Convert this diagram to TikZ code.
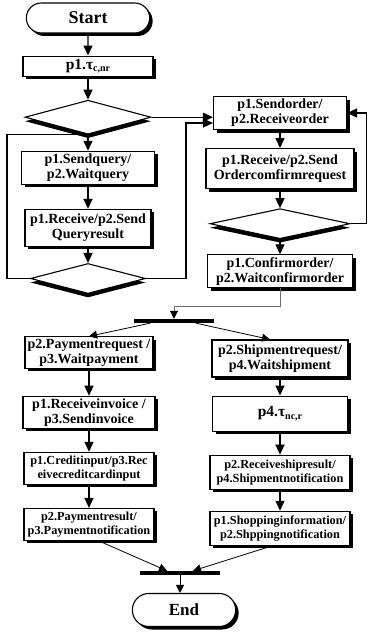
\documentclass[tikz,border=0pt]{standalone}
\usepackage{fontspec}
\setmainfont{Liberation Serif}
\usetikzlibrary{arrows.meta,positioning,calc,shapes.geometric,shapes.misc,shadows}
\definecolor{ink}{HTML}{000000}
\definecolor{wiregray}{HTML}{6A6A6A}
\newcommand{\LeftX}{88}
\newcommand{\RightX}{280}
\newcommand{\lowsub}[1]{\raisebox{-2.5pt}{\fontsize{10}{10}\selectfont #1}}

\begin{document}
\begin{tikzpicture}[x=1pt, y=-1pt, ink, font=\bfseries\fontsize{14}{15}\selectfont,
    box shadow/.style={drop shadow={shadow xshift=3pt, shadow yshift=-3pt, fill=ink, opacity=1}},
    term/.style={rounded rectangle, draw=ink, line width=1.1pt, fill=white, box shadow, font=\bfseries\fontsize{18}{18}\selectfont},
    act/.style={draw=ink, line width=1.1pt, fill=white, align=center, inner sep=2pt, box shadow},
    smallact/.style={act, font=\bfseries\fontsize{12.3}{14}\selectfont},
    tauact/.style={act, font=\bfseries\fontsize{15.5}{16}\selectfont},
    test/.style={diamond, draw=ink, line width=1.1pt, fill=white, inner sep=0pt, drop shadow={shadow xshift=0pt, shadow yshift=-4pt, fill=ink, opacity=1}},
    bar/.style={fill=ink, minimum width=80pt, minimum height=4pt, inner sep=0pt},
    go/.style={-{Triangle[length=10pt, width=9pt]}, line width=1.4pt},
    back/.style={line width=1.1pt},
    wire/.style={-{Triangle[length=8pt, width=8pt, color=ink]}, line width=0.8pt},
  ]
\useasboundingbox (0,0) rectangle (368,634);

% --- Query loop (left) -----------------------------------------------------------
\node[term, minimum width=130pt, minimum height=30pt] (start) at (\LeftX,18) {Start};
\node[tauact, minimum width=130pt, minimum height=20pt, below=22pt of start] (tauc) {p1.τ\lowsub{c,nr}};
\node[test, minimum width=126pt, minimum height=34pt, below=23pt of tauc] (ask) {};
\node[act, minimum width=133pt, minimum height=33pt, below=16pt of ask] (query) {p1.Sendquery/\\p2.Waitquery};
\node[act, minimum width=126pt, minimum height=37pt, below=24pt of query] (qresult) {p1.Receive/p2.Send\\Queryresult};
\node[test, minimum width=115pt, minimum height=30pt, below=16pt of qresult] (again) {};

% --- Order loop (right) ----------------------------------------------------------
\node[act, minimum width=133pt, minimum height=33pt] (order) at (\RightX,113) {p1.Sendorder/\\p2.Receiveorder};
\node[act, minimum width=148pt, minimum height=40pt, below=18pt of order] (ocreq) {p1.Receive/p2.Send\\Ordercomfirmrequest};
\node[test, minimum width=140pt, minimum height=30pt, below=19pt of ocreq] (check) {};
\node[act, minimum width=145pt, minimum height=33pt, below=15pt of check] (confirm) {p1.Confirmorder/\\p2.Waitconfirmorder};

% --- Payment and shipment branches -------------------------------------------------
\node[bar] (fork) at (174,321) {};
\node[act, minimum width=128pt, minimum height=31pt] (payreq) at (89,352.5) {p2.Paymentrequest /\\p3.Waitpayment};
\node[act, minimum width=132pt, minimum height=32pt, below=27pt of payreq] (invoice) {p1.Receiveinvoice /\\p3.Sendinvoice};
\node[smallact, minimum width=130pt, minimum height=32pt, below=23pt of invoice] (credit) {p1.Creditinput/p3.Rec\\eivecreditcardinput};
\node[smallact, minimum width=130pt, minimum height=32pt, below=23pt of credit] (payres) {p2.Paymentresult/\\p3.Paymentnotification};
\node[act, minimum width=136pt, minimum height=37pt] (shipreq) at (\RightX,358.5) {p2.Shipmentrequest/\\p4.Waitshipment};
\node[tauact, minimum width=135pt, minimum height=35pt, below=18pt of shipreq] (taunc) {p4.τ\lowsub{nc,r}};
\node[smallact, minimum width=140pt, minimum height=34pt, below=23pt of taunc] (shipres) {p2.Receiveshipresult/\\p4.Shipmentnotification};
\node[smallact, minimum width=140pt, minimum height=34pt, below=21pt of shipres] (shopinf) {p1.Shoppinginformation/\\p2.Shppingnotification};
\node[bar] (join) at (180,573) {};
\node[term, minimum width=110pt, minimum height=33pt, font=\bfseries\fontsize{17}{17}\selectfont] (finish) at (184,610) {End};

% --- Arrows ------------------------------------------------------------------------
\draw[go] (start) -- (tauc);
\draw[go] (tauc) -- (ask);
\draw[go] (ask) -- (query);
\draw[go] (query) -- (qresult);
\draw[go] (qresult) -- (again);
\draw[go] (ask.east) -- (ask.east -| order.west);
\draw[back] (again.west) -- ++(-23,0) |- (ask.south);
\draw[go] (again.east) -- ++(40,0) |- ([yshift=-10pt]order.west);
\draw[go] (order) -- (ocreq);
\draw[go] (ocreq) -- (check);
\draw[go] (check) -- (confirm);
\draw[go] (check.east) -- ++(16,0) |- (order.east);
\draw[wire, draw=wiregray] (confirm.south) -- ++(0,18) -| (fork.north);
\draw[wire] ([xshift=-24pt]fork.south) -- (payreq.north);
\draw[wire] ([xshift=22pt]fork.south) -- ([xshift=-10pt]shipreq.north);
\draw[go] (payreq) -- (invoice);
\draw[go] (invoice) -- (credit);
\draw[go] (credit) -- (payres);
\draw[go] (shipreq) -- (taunc);
\draw[go] (taunc) -- (shipres);
\draw[go] (shipres) -- (shopinf);
\draw[wire] ([xshift=10pt]payres.south) -- ([xshift=-13pt]join.north);
\draw[wire] ([xshift=-8pt]shopinf.south) -- ([xshift=13pt]join.north);
\draw[wire] (join.south) -- (join.south |- finish.north);
\end{tikzpicture}
\end{document}
